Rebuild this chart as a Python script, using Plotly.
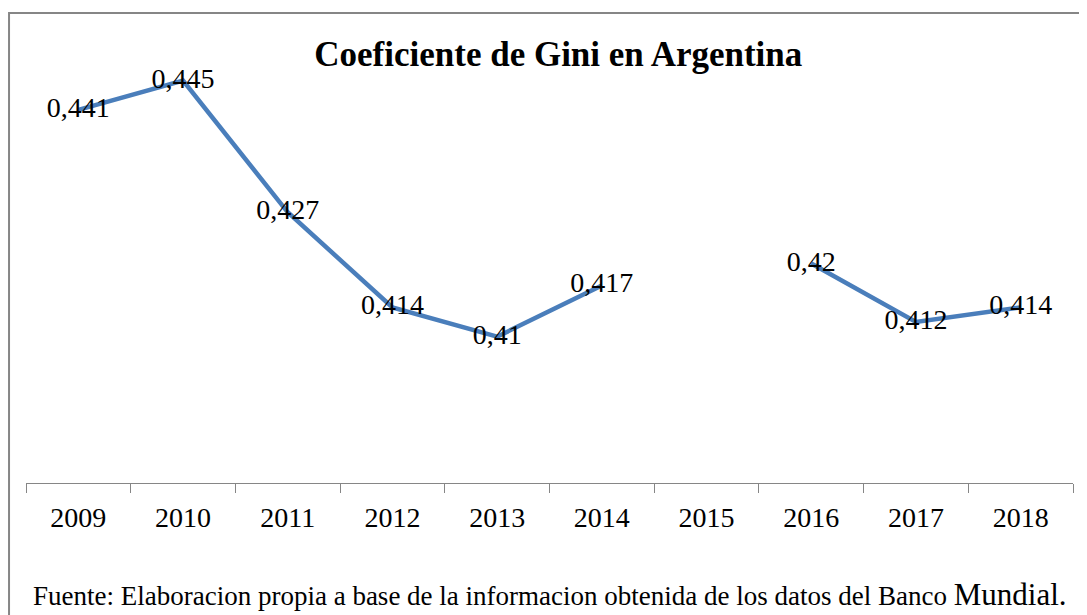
import plotly.graph_objects as go

anios = ["2009", "2010", "2011", "2012", "2013", "2014", "2015", "2016", "2017", "2018"]
gini = [0.441, 0.445, 0.427, 0.414, 0.41, 0.417, None, 0.42, 0.412, 0.414]
etiquetas = ["" if v is None else str(v).replace(".", ",") for v in gini]

fuente = "Liberation Serif, Times New Roman, serif"

fig = go.Figure()
fig.add_trace(go.Scatter(
    x=anios, y=gini, mode="lines+text", text=etiquetas,
    textposition="middle center", connectgaps=False,
    line=dict(color="#4A7EBB", width=4.5),
    textfont=dict(family=fuente, size=28, color="black"),
    hoverinfo="x+y", showlegend=False,
))

# la pagina tiene 8px de margen en el body, asi que la figura es algo menor
fig.update_layout(
    width=1079, height=607,
    margin=dict(l=18, r=14, t=36, b=132),
    paper_bgcolor="white", plot_bgcolor="white",
    title=dict(text="<b>Coeficiente de Gini en Argentina</b>", x=0.51, xanchor="center",
               y=0.924, yanchor="middle", font=dict(family=fuente, size=35, color="black")),
    xaxis=dict(type="category", tickson="boundaries", ticks="outside", ticklen=9,
               tickcolor="#868686", showline=True, linecolor="#868686", linewidth=1,
               showgrid=False, tickfont=dict(family=fuente, size=28, color="black"),
               ticklabelstandoff=9, range=[-0.5, 9.5]),
    yaxis=dict(range=[0.39, 0.45], visible=False, showgrid=False),
    shapes=[dict(type="rect", xref="paper", yref="paper", x0=-0.0162, x1=1.03,
                 y0=-0.35, y1=1.0706, line=dict(color="#868686", width=2))],
    annotations=[dict(text="Fuente: Elaboracion propia a base de la informacion obtenida de los datos del Banco <span style='font-size:31px'>Mundial.</span>",
                      xref="paper", yref="paper", x=0.5, y=-0.255, xanchor="center", yanchor="middle",
                      showarrow=False, font=dict(family=fuente, size=27, color="black"))],
)

fig.write_html("out.html")
